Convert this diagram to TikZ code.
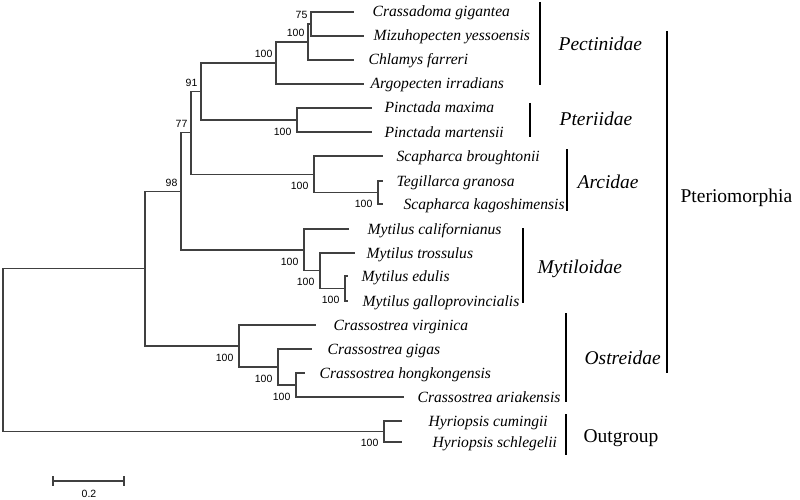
\documentclass[tikz,border=0pt]{standalone}
\usepackage{fontspec}
\setmainfont{Liberation Serif}
\setsansfont{Liberation Sans}
\usetikzlibrary{positioning}
\tikzset{>=stealth}

\begin{document}
\begin{tikzpicture}[x=1pt, y=-1pt, line width=1.2pt,
    branch/.style={draw=black!75},
    taxon/.style={anchor=base west, inner sep=0pt, font=\fontsize{15.6}{17}\selectfont\itshape},
    boot/.style={anchor=east, inner sep=0pt, font=\sffamily\fontsize{10.5}{12}\selectfont},
    bootup/.style={boot, xshift=-3pt, yshift=9pt},
    bootdn/.style={boot, xshift=-5pt, yshift=-11.5pt},
    family/.style={anchor=base west, inner sep=0pt, font=\fontsize{19.5}{22}\selectfont\itshape},
    clade/.style={anchor=base west, inner sep=0pt, font=\fontsize{19.5}{22}\selectfont}]
    \useasboundingbox (0,0) rectangle (800,500);

    % tips and names
    \foreach \n/\tx/\lx/\y/\name in {
        1/354/372/12/Crassadoma gigantea, 2/364/373/36/Mizuhopecten yessoensis,
        3/354/368/60/Chlamys farreri, 4/364/370/84/Argopecten irradians,
        5/372/384/108/Pinctada maxima, 6/372/384/132/Pinctada martensii,
        7/383/396/156/Scapharca broughtonii, 8/383/396/181/Tegillarca granosa,
        9/383/403/204/Scapharca kagoshimensis, 10/349/367/229/Mytilus californianus,
        11/355/366/253/Mytilus trossulus, 12/348/361/276/Mytilus edulis,
        13/348/362/301/Mytilus galloprovincialis, 14/316/333/325/Crassostrea virginica,
        15/312/327/349/Crassostrea gigas, 16/305/319/373/Crassostrea hongkongensis,
        17/404/417/397/Crassostrea ariakensis, 18/402/428/421/Hyriopsis cumingii,
        19/402/432/442/Hyriopsis schlegelii}
    {
        \coordinate (t\n) at (\tx,\y);
        \node[taxon] (l\n) at (\lx,\y+5) {\name};
    }

    % inner nodes
    \foreach \n/\x/\y in {root/3/350.1, pter/145/268.7, nA/181/191.4, nB/191/132.9,
        nC/201/91.5, pect/276/63, p2/308/42, p1/311/24, pteri/297/120, arc/314/174.25,
        arc2/378/192.5, myt/304/249.9, myt2/320/270.75, myt3/345/288.5, ost/239/346,
        ost2/278/367, ost3/296/385, out/384/431.5}
        \coordinate (\n) at (\x,\y);

    \foreach \a/\b in {root/pter, root/out, pter/nA, pter/ost, nA/nB, nA/myt, nB/nC,
        nB/arc, nC/pect, nC/pteri, pect/p2, pect/t4, p2/p1, p2/t3, p1/t1, p1/t2,
        pteri/t5, pteri/t6, arc/t7, arc/arc2, arc2/t8, arc2/t9, myt/t10, myt/myt2,
        myt2/t11, myt2/myt3, myt3/t12, myt3/t13, ost/t14, ost/ost2, ost2/t15,
        ost2/ost3, ost3/t16, ost3/t17, out/t18, out/t19}
        \draw[branch] (\a) |- (\b);

    % bootstrap values
    \foreach \n/\p/\v in {p1/up/75, p2/up/100, pect/up/100, nC/up/91, nB/up/77, nA/up/98,
        pteri/dn/100, arc/dn/100, arc2/dn/100, myt/dn/100, myt2/dn/100, myt3/dn/100,
        ost/dn/100, ost2/dn/100, ost3/dn/100, out/dn/100}
        \node[boot\p] (b\n) at (\n) {\v};

    % brackets
    \foreach \x/\ya/\yb in {540/2/85, 530/103/137, 567/149/211, 523/228/303,
        566/313/402, 566/414/455, 667/31/373}
        \draw (\x,\ya)--(\x,\yb);
    \node[family] (pectinidae) at (558,51) {Pectinidae};
    \node[family] (pteriidae) at (559,126) {Pteriidae};
    \node[family] (arcidae) at (577,188) {Arcidae};
    \node[family] (mytiloidae) at (537,273) {Mytiloidae};
    \node[family] (ostreidae) at (584,364) {Ostreidae};
    \node[clade] (outgroup) at (583,442) {Outgroup};
    \node[clade] (pteriomorphia) at (680,202) {Pteriomorphia};

    % scale bar
    \draw[branch] (53,481)--(124,481);
    \draw[branch] (53,476)--(53,486);
    \draw[branch] (124,476)--(124,486);
    \node[inner sep=0pt, anchor=base, font=\sffamily\fontsize{10.5}{12}\selectfont] (scale) at (89,497) {0.2};
\end{tikzpicture}
\end{document}
